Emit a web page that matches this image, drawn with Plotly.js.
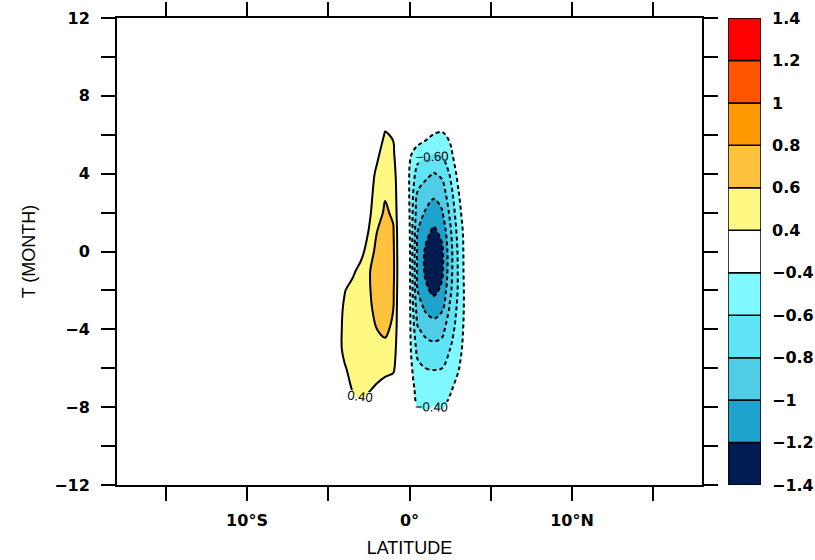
<!DOCTYPE html>
<html>
<head>
<meta charset="utf-8">
<script src="https://cdn.plot.ly/plotly-3.0.1.min.js"></script>
<style>html,body{margin:0;padding:0;background:#fff;}#chart{width:815px;height:560px;}</style>
</head>
<body>
<div id="chart"></div>
<script>
// Latitude grid (degrees, negative = south)
const lat = [-18, -5, -4.5, -4, -3.5, -3, -2.5, -2, -1.5, -1, -0.5, 0, 0.5, 1, 1.5, 2, 2.5, 3, 3.5, 4, 4.5, 18];
// Time lag (months)
const month = [-12, -10, -9, -8, -7, -6, -5, -4, -3, -2, -1, 0, 1, 2, 3, 4, 5, 6, 7, 8, 12];
// Field values, one row per month
const field = [
  [0, 0,0,0,0,0,0,0,0,0,0, 0,0,0,0,0,0,0,0,0,0, 0],
  [0, 0,0,0,0,0,0,0,0,0,0, 0,0,0,0,0,0,0,0,0,0, 0],
  [0, 0,0.03,0.08,0.12,0.13,0.1,0.07,0.05,0.03,0, -0.05,-0.15,-0.18,-0.16,-0.15,-0.12,-0.08,-0.03,0,0, 0],
  [0, 0.02,0.08,0.18,0.32,0.36,0.3,0.22,0.15,0.1,0.03, -0.15,-0.4,-0.43,-0.39,-0.43,-0.33,-0.2,-0.08,0,0, 0],
  [0, 0.05,0.15,0.3,0.42,0.46,0.43,0.37,0.3,0.25,0.08, -0.3,-0.47,-0.5,-0.5,-0.5,-0.44,-0.32,-0.15,-0.04,0, 0],
  [0, 0.08,0.22,0.38,0.47,0.5,0.5,0.5,0.48,0.45,0.12, -0.33,-0.55,-0.6,-0.61,-0.6,-0.52,-0.42,-0.25,-0.08,0, 0],
  [0, 0.12,0.3,0.45,0.5,0.52,0.53,0.55,0.56,0.52,0.14, -0.35,-0.66,-0.72,-0.74,-0.72,-0.6,-0.48,-0.3,-0.1,0, 0],
  [0, 0.13,0.32,0.44,0.5,0.53,0.55,0.6,0.63,0.57,0.15, -0.35,-0.78,-0.86,-0.9,-0.86,-0.68,-0.52,-0.32,-0.12,0, 0],
  [0, 0.12,0.3,0.43,0.5,0.54,0.57,0.64,0.68,0.6,0.15, -0.35,-0.9,-1.02,-1.08,-1.02,-0.76,-0.55,-0.33,-0.12,0, 0],
  [0, 0.1,0.25,0.39,0.47,0.52,0.58,0.68,0.72,0.63,0.15, -0.35,-1.0,-1.16,-1.25,-1.16,-0.84,-0.58,-0.32,-0.12,0, 0],
  [0, 0.05,0.15,0.25,0.36,0.47,0.58,0.7,0.75,0.65,0.15, -0.35,-1.05,-1.24,-1.36,-1.24,-0.88,-0.58,-0.3,-0.12,0, 0],
  [0, 0,0.03,0.1,0.22,0.33,0.5,0.66,0.72,0.64,0.15, -0.36,-1.05,-1.23,-1.35,-1.24,-0.88,-0.57,-0.3,-0.12,0, 0],
  [0, 0,0.02,0.07,0.16,0.28,0.41,0.6,0.68,0.62,0.15, -0.38,-1.0,-1.15,-1.24,-1.15,-0.84,-0.53,-0.3,-0.1,0, 0],
  [0, 0,0,0.04,0.13,0.25,0.36,0.52,0.63,0.57,0.15, -0.4,-0.92,-1.02,-1.1,-1.02,-0.76,-0.48,-0.25,-0.08,0, 0],
  [0, 0,0,0.02,0.1,0.22,0.34,0.47,0.58,0.54,0.15, -0.42,-0.82,-0.9,-0.96,-0.9,-0.68,-0.42,-0.2,-0.06,0, 0],
  [0, 0,0,0,0.08,0.18,0.3,0.44,0.55,0.5,0.15, -0.42,-0.68,-0.75,-0.81,-0.76,-0.58,-0.34,-0.15,-0.04,0, 0],
  [0, 0,0,0,0.05,0.12,0.25,0.36,0.5,0.44,0.12, -0.36,-0.52,-0.57,-0.61,-0.58,-0.45,-0.28,-0.12,-0.03,0, 0],
  [0, 0,0,0,0,0.05,0.12,0.25,0.42,0.38,0.12, -0.1,-0.25,-0.33,-0.41,-0.43,-0.36,-0.2,-0.08,0,0, 0],
  [0, 0,0,0,0,0,0.05,0.15,0.3,0.3,0.1, 0,-0.1,-0.15,-0.2,-0.22,-0.18,-0.1,-0.05,0,0, 0],
  [0, 0,0,0,0,0,0,0.05,0.1,0.1,0.05, 0,-0.05,-0.08,-0.1,-0.1,-0.08,-0.05,0,0,0, 0],
  [0, 0,0,0,0,0,0,0,0,0,0, 0,0,0,0,0,0,0,0,0,0, 0]
];

// Contour level boundaries shown in the colour bar
const cbLabels = ['\u22121.4','\u22121.2','\u22121','\u22120.8','\u22120.6','\u22120.4','0.4','0.6','0.8','1','1.2','1.4'];
const cbColors = ['#001a52','#1ea3cc','#4fcce6','#5ee4f5','#80f8ff','#ffffff','#fff883','#ffc23d','#ff9900','#ff5500','#ff0000'];

// Band colours for the fill trace: levels -1.4..1.4 step 0.2 -> 16 bands
const bandColors = ['#001a52','#001a52','#1ea3cc','#4fcce6','#5ee4f5','#80f8ff',
  '#ffffff','#ffffff','#ffffff','#ffffff',
  '#fff883','#ffc23d','#ff9900','#ff5500','#ff0000','#ff0000'];

const latTicks = [-15, -10, -5, 0, 5, 10, 15];
const latTickText = ['', '10\u00b0S', '', '0\u00b0', '', '10\u00b0N', ''];
const tTicks = [-12, -10, -8, -6, -4, -2, 0, 2, 4, 6, 8, 10, 12];
const tTickText = ['\u221212', '', '\u22128', '', '\u22124', '', '0', '', '4', '', '8', '', '12'];

const nb = bandColors.length - 1;
const colorscale = [];
bandColors.forEach((c, k) => {
  colorscale.push([Math.max(0, (k - 0.5) / nb), c]);
  colorscale.push([Math.min(1, (k + 0.5) / nb), c]);
});

const tickFont = {family: 'DejaVu Sans', size: 16, color: '#000', weight: 'bold'};
const lblFont = {family: 'Liberation Sans', size: 13, color: '#000'};

function lineTrace(start, end, dash, labels) {
  return {
    type: 'contour', x: lat, y: month, z: field,
    autocontour: false,
    contours: {start: start, end: end, size: 0.2, coloring: 'none', showlabels: labels,
      labelformat: '.2f', labelfont: lblFont},
    line: {color: '#000', width: 2, dash: dash, smoothing: 1},
    showscale: false, hoverinfo: 'skip'
  };
}

const fillTrace = {
  type: 'contour', x: lat, y: month, z: field,
  autocontour: false,
  contours: {start: -1.4, end: 1.4, size: 0.2, coloring: 'fill', showlines: false},
  colorscale: colorscale, showscale: false,
  line: {width: 0, smoothing: 1},
  hoverinfo: 'skip'
};
const posLabeled = lineTrace(0.4, 0.4, 'solid', true);
const posOther = lineTrace(0.6, 1.4, 'solid', false);
const negLabeled = lineTrace(-0.6, -0.4, '4px,3px', true);
const negOther = lineTrace(-1.4, -0.8, '4px,3px', false);

const cbar = {
  type: 'bar', xaxis: 'x2', yaxis: 'y2',
  x: cbColors.map(() => 0),
  y: cbColors.map(() => 1),
  base: cbColors.map((c, i) => i),
  width: 1,
  marker: {color: cbColors, line: {color: '#000', width: 1.5}},
  hoverinfo: 'skip'
};

const layout = {
  width: 815, height: 560,
  margin: {l: 117, r: 10, t: 18, b: 75},
  paper_bgcolor: '#fff', plot_bgcolor: '#fff',
  showlegend: false,
  xaxis: {
    domain: [0, 0.8503], range: [-18, 18],
    tickvals: latTicks, ticktext: latTickText,
    ticks: 'outside', ticklen: 14, tickwidth: 2, tickcolor: '#000',
    showline: true, linewidth: 2, linecolor: '#000', mirror: 'ticks',
    showgrid: false, zeroline: false, tickfont: tickFont, ticklabelstandoff: 6,
    title: {text: 'LATITUDE', font: {family: 'Liberation Sans', size: 18, color: '#000'}, standoff: 12}
  },
  yaxis: {
    range: [-12, 12],
    tickvals: tTicks, ticktext: tTickText,
    ticks: 'outside', ticklen: 14, tickwidth: 2, tickcolor: '#000',
    showline: true, linewidth: 2, linecolor: '#000', mirror: 'ticks',
    showgrid: false, zeroline: false, tickfont: tickFont, ticklabelstandoff: 8,
    title: {text: 'T (MONTH)', font: {family: 'Liberation Sans', size: 18, color: '#000'}, standoff: 14}
  },
  xaxis2: {domain: [0.88808, 0.93605], range: [-0.5, 0.5], visible: false, anchor: 'y2', fixedrange: true},
  yaxis2: {
    domain: [0, 1], anchor: 'x2', range: [0, 11], side: 'right',
    tickvals: cbLabels.map((s, i) => i), ticktext: cbLabels,
    ticks: '', showgrid: false, zeroline: false, showline: false,
    tickfont: tickFont, ticklabelstandoff: 10, fixedrange: true
  }
};

Plotly.newPlot('chart', [fillTrace, posOther, posLabeled, negOther, negLabeled, cbar], layout, {displayModeBar: false, staticPlot: true});
</script>
</body>
</html>
